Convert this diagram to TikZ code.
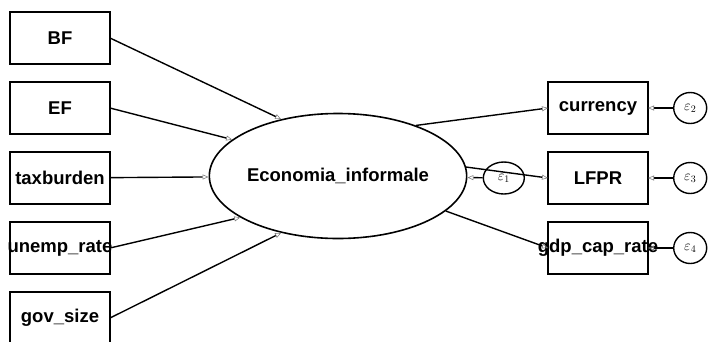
\documentclass[tikz,border=0pt]{standalone}
\usepackage{fontspec}
\newfontfamily\semfont{Liberation Sans}
\usepackage{tikz}
\usetikzlibrary{shapes,arrows.meta,positioning}

\newcommand{\overtext}[1]{\makebox[0pt]{#1}}

\begin{document}
\begin{tikzpicture}[
  node distance=18pt and 25pt,
  varbox/.style={draw,line width=1.6pt,outer sep=0pt,minimum width=100pt,
    minimum height=52pt,inner sep=0pt,font=\semfont\bfseries\fontsize{18.5}{20}\selectfont},
  latent/.style={draw,ellipse,line width=1.6pt,minimum width=244pt,
    minimum height=125pt,inner sep=0pt,font=\semfont\bfseries\fontsize{18.5}{20}\selectfont},
  errnode/.style={draw,ellipse,line width=1.4pt,minimum width=33pt,minimum height=31pt,
    inner sep=0pt,font=\fontsize{14}{14}\selectfont},
  path/.style={line width=1.4pt,
    -{Triangle[open,length=6pt,width=5pt,line width=0.6pt,color=gray]}},
]
  \useasboundingbox (0,0) rectangle (711pt,-341pt);
  % causes on the left
  \node[varbox] (BF) at (60pt,-38pt) {BF};
  \node[varbox,below=of BF] (EF) {EF};
  \node[varbox,below=of EF] (taxburden) {taxburden};
  \node[varbox,below=of taxburden] (unemp) {\overtext{unemp\_rate}};
  \node[varbox,below=of unemp] (gov) {gov\_size};
  % latent variable
  \node[latent] (econ) at (338pt,-176pt) {Economia\_informale};
  % indicators on the right
  \node[varbox,right=438pt of EF] (currency) {currency};
  \node[varbox,below=of currency] (LFPR) {LFPR};
  \node[varbox,below=of LFPR] (gdp) {\overtext{gdp\_cap\_rate}};
  % error terms
  \node[errnode,minimum width=41pt,minimum height=32pt,left=23pt of LFPR] (e1)
    {$\varepsilon_1$};
  \node[errnode,right=25pt of currency] (e2) {$\varepsilon_2$};
  \node[errnode,right=25pt of LFPR] (e3) {$\varepsilon_3$};
  \node[errnode,right=25pt of gdp] (e4) {$\varepsilon_4$};

  \draw[path] (BF.east) -- (econ.135);
  \draw[path] (EF.east) -- (econ.161);
  \draw[path] (taxburden) -- (econ);
  \draw[path] (unemp.east) -- (econ.203);
  \draw[path] (gov.east) -- (econ.225);
  \draw[path] (econ.33) -- (currency.west);
  \draw[path] (econ.4) -- (LFPR.west);
  \draw[path] (econ.-18) -- (gdp.west);
  \draw[path] (e1) -- (econ);
  \draw[path] (e2) -- (currency);
  \draw[path] (e3) -- (LFPR);
  \draw[path] (e4) -- (gdp);
\end{tikzpicture}
\end{document}
